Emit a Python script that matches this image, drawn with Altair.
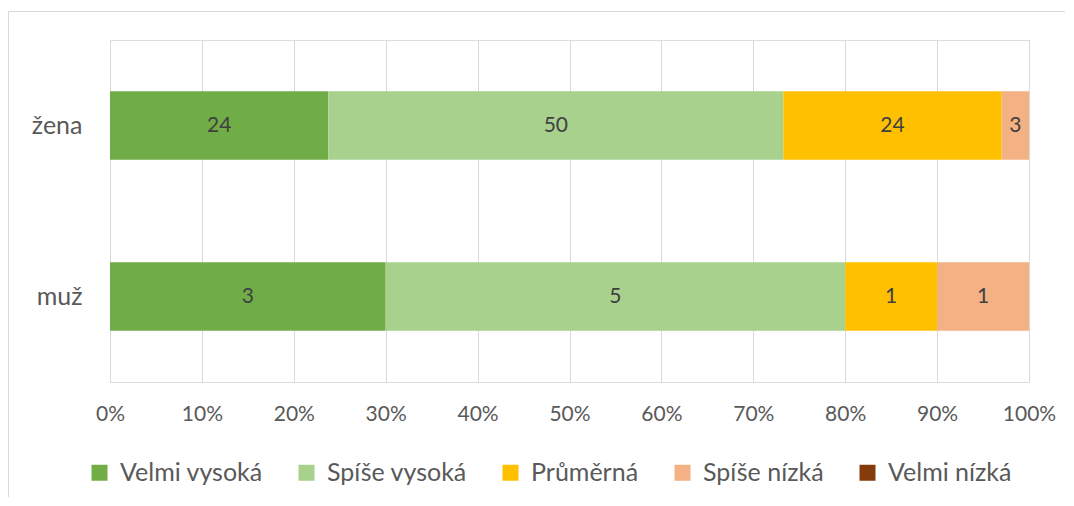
import altair as alt
import pandas as pd

groups = ["žena", "muž"]
series = ["Velmi vysoká", "Spíše vysoká", "Průměrná", "Spíše nízká", "Velmi nízká"]
colors = ["#70AD47", "#A9D18E", "#FFC000", "#F4B183", "#843C0C"]
zena_values = [24, 50, 24, 3, 0]
muz_values = [3, 5, 1, 1, 0]

rows = []
for g, vals in zip(groups, [zena_values, muz_values]):
    for i, (s, v) in enumerate(zip(series, vals)):
        rows.append({"skupina": g, "kategorie": s, "poradi": i, "pocet": v})
df = pd.DataFrame(rows)

FONT = "Lato"
TXT = "#595959"

base = alt.Chart(df).transform_joinaggregate(
    celkem="sum(pocet)", groupby=["skupina"]
).transform_window(
    kum="sum(pocet)", sort=[alt.SortField("poradi")], groupby=["skupina"], frame=[None, 0]
).transform_calculate(
    start="(datum.kum - datum.pocet) / datum.celkem",
    end="datum.kum / datum.celkem",
    mid="(datum.kum - datum.pocet / 2) / datum.celkem",
)

y_enc = alt.Y(
    "skupina:N",
    sort=groups,
    scale=alt.Scale(paddingInner=0.6, paddingOuter=0.3),
    axis=alt.Axis(
        title=None, domain=False, ticks=False, labelFontSize=25, labelFont=FONT,
        labelColor=TXT, labelPadding=28,
    ),
)

bars = base.mark_bar().encode(
    x=alt.X(
        "start:Q",
        scale=alt.Scale(domain=[0, 1], nice=False, zero=True),
        axis=alt.Axis(
            title=None, format=".0%", values=[i / 10 for i in range(11)],
            domain=False, ticks=False, grid=True, gridColor="#D9D9D9", gridWidth=1,
            labelFontSize=21, labelFont=FONT, labelColor=TXT, labelPadding=21,
            labelFlush=False,
        ),
    ),
    x2="end:Q",
    y=y_enc,
    color=alt.Color(
        "kategorie:N",
        scale=alt.Scale(domain=series, range=colors),
        sort=series,
        legend=alt.Legend(
            title=None, orient="none", direction="horizontal", columns=5,
            legendX=-23, legendY=420, symbolType="square", symbolSize=256,
            symbolStrokeWidth=0, labelFontSize=25, labelFont=FONT, labelColor=TXT,
            labelOffset=8, columnPadding=31, labelLimit=400,
        ),
    ),
    order=alt.Order("poradi:Q"),
)

labels = base.transform_filter("datum.pocet > 0").mark_text(
    font=FONT, fontSize=21, color="#404040"
).encode(
    x=alt.X("mid:Q"),
    y=y_enc,
    text=alt.Text("pocet:Q"),
)

border = alt.Chart(pd.DataFrame({"a": [0]})).mark_rect(
    fill=None, stroke="#D9D9D9", strokeWidth=1, clip=False
).encode(
    x=alt.value(-101.5), x2=alt.value(990), y=alt.value(-28.5), y2=alt.value(480)
)

chart = alt.layer(border, bars, labels).properties(
    width=919, height=342,
    autosize=alt.AutoSizeParams(type="none"),
    padding={"left": 102, "top": 32, "right": 36, "bottom": 115},
).configure_view(stroke=None).configure(background="white")

chart.save("out.html", embed_options={"renderer": "svg", "actions": False})
